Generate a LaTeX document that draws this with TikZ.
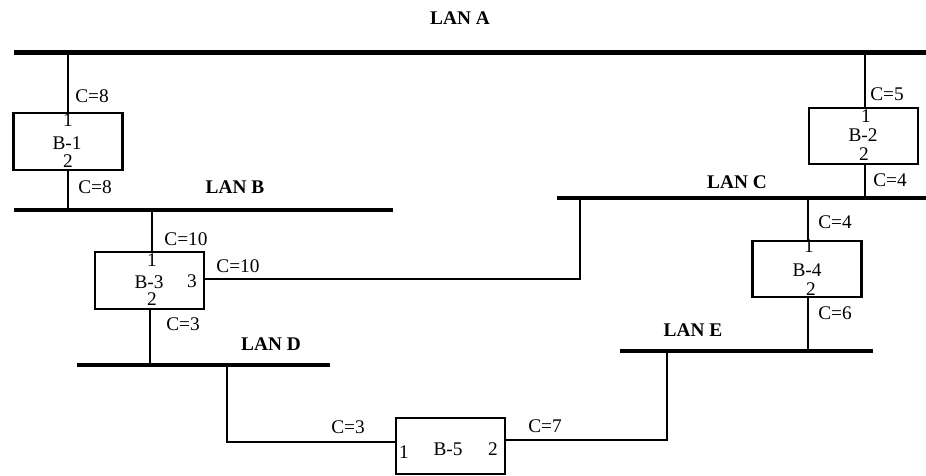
\documentclass[tikz,border=0pt]{standalone}
\usepackage{fontspec}
\setmainfont{Liberation Serif}
\begin{document}
\begin{tikzpicture}[x=0.02cm,y=-0.02cm,
    lan/.style={line width=2.8pt},
    link/.style={line width=0.6pt},
    bridge/.style={draw,line width=1.4pt,minimum width=2.18cm,minimum height=1.13cm,inner sep=0pt},
    lbl/.style={font=\fontsize{11}{13}\selectfont,inner sep=0pt},
    lanlbl/.style={font=\fontsize{11}{13}\selectfont\bfseries,inner sep=0pt}]
                \useasboundingbox (0,0) rectangle (926,476);

                % Drawing LAN A
                \coordinate (A0) at (14,52.5);
                \coordinate (A9) at (926,52.5);
                \draw [lan] (A0) -- (A9);%
                \node [lanlbl] (labA) at (460,18) {LAN A};%

                % Drawing LAN B
                \coordinate (B0) at (14,210);
                \coordinate (B9) at (393,210);
                \draw [lan] (B0) -- (B9);%
                \node [lanlbl] (labB) at (235,187) {LAN B};%

                % Drawing LAN C
                \coordinate (C0) at (557,198);
                \coordinate (C9) at (926,198);
                \draw [lan] (C0) -- (C9);%
                \node [lanlbl] (labC) at (737,182) {LAN C};%

                % Drawing LAN D
                \coordinate (D0) at (77,365);
                \coordinate (D9) at (330,365);
                \draw [lan] (D0) -- (D9);%
                \node [lanlbl] (labD) at (271,344) {LAN D};%

                % Drawing LAN E
                \coordinate (E0) at (620,351);
                \coordinate (E9) at (873,351);
                \draw [lan] (E0) -- (E9);%
                \node [lanlbl] (labE) at (693,330) {LAN E};%

                % Marking bridge B-1
                \node [bridge] (br1) at (68,141.5) {};%
                \node [lbl] (br1n) at (67,143) {B-1};%
                \node [lbl] (br1p1) at (68,120) {1};%
                \node [lbl] (br1p2) at (68,161) {2};%
                \coordinate (tA1) at (68,52.5);
                \coordinate (tB1) at (68,210);
                \draw [link] (tA1) -- (tA1 |- br1.north);%
                \draw [link] (tB1 |- br1.south) -- (tB1);%
                \node [lbl] (c1a) at (92,96) {C=8};%
                \node [lbl] (c1b) at (95,187) {C=8};%

                % Marking bridge B-2
                \node [bridge] (br2) at (863.5,136) {};%
                \node [lbl] (br2n) at (863,135) {B-2};%
                \node [lbl] (br2p1) at (866,116) {1};%
                \node [lbl] (br2p2) at (864,154) {2};%
                \coordinate (tA2) at (865,52.5);
                \coordinate (tC2) at (865,198);
                \draw [link] (tA2) -- (tA2 |- br2.north);%
                \draw [link] (tC2 |- br2.south) -- (tC2);%
                \node [lbl] (c2a) at (887,94) {C=5};%
                \node [lbl] (c2b) at (890,180) {C=4};%

                % Marking bridge B-3
                \node [bridge] (br3) at (149.5,280.5) {};%
                \node [lbl] (br3n) at (149,282) {B-3};%
                \node [lbl] (br3p1) at (152,260) {1};%
                \node [lbl] (br3p2) at (152,299) {2};%
                \node [lbl] (br3p3) at (192,281) {3};%
                \coordinate (tB3) at (152,210);
                \coordinate (tC3) at (580,198);
                \coordinate (tD3) at (150,365);
                \draw [link] (tB3) -- (tB3 |- br3.north);%
                \draw [link] (tD3 |- br3.south) -- (tD3);%
                \draw [link] ([yshift=0.03cm]br3.east) -| (tC3);%
                \node [lbl] (c3a) at (186,239) {C=10};%
                \node [lbl] (c3b) at (238,266) {C=10};%
                \node [lbl] (c3c) at (183,324) {C=3};%

                % Marking bridge B-4
                \node [bridge] (br4) at (807,269) {};%
                \node [lbl] (br4n) at (807,270) {B-4};%
                \node [lbl] (br4p1) at (809,246) {1};%
                \node [lbl] (br4p2) at (811,289) {2};%
                \coordinate (tC4) at (808,198);
                \coordinate (tE4) at (808,351);
                \draw [link] (tC4) -- (tC4 |- br4.north);%
                \draw [link] (tE4 |- br4.south) -- (tE4);%
                \node [lbl] (c4a) at (835,222) {C=4};%
                \node [lbl] (c4b) at (835,313) {C=6};%

                % Marking bridge B-5
                \node [bridge] (br5) at (450.5,446) {};%
                \node [lbl] (br5n) at (448,449) {B-5};%
                \node [lbl] (br5p1) at (404,452) {1};%
                \node [lbl] (br5p2) at (493,449) {2};%
                \coordinate (tD5) at (227,365);
                \coordinate (tE5) at (667,351);
                \draw [link] (tD5) |- ([yshift=0.08cm]br5.west);%
                \draw [link] ([yshift=0.12cm]br5.east) -| (tE5);%
                \node [lbl] (c5a) at (348,427) {C=3};%
                \node [lbl] (c5b) at (545,426) {C=7};%
\end{tikzpicture}
\end{document}
